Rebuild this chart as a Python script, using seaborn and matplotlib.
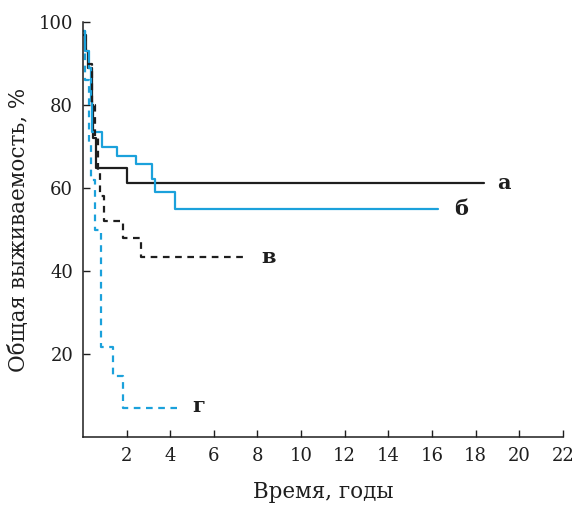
import pandas as pd
import matplotlib.pyplot as plt
import seaborn as sns

# Кривые выживаемости (время в годах, выживаемость в %)
t_a = [0.0, 0.1, 0.15, 0.25, 0.4, 0.45, 0.6, 2.0, 18.4]
s_a = [97, 97, 93, 89, 80, 72, 64.8, 61.2, 61.2]

t_b = [0.0, 0.1, 0.3, 0.35, 0.4, 0.87, 1.56, 2.45, 3.17, 3.3, 4.2, 16.3]
s_b = [98, 93, 89, 81, 73.5, 70, 67.7, 65.8, 62.2, 59.1, 55, 55]

t_v = [0.2, 0.4, 0.55, 0.7, 0.8, 0.95, 1.85, 2.65, 7.5]
s_v = [90, 80, 72, 64, 58, 52, 48, 43.3, 43.3]

t_g = [0.0, 0.1, 0.28, 0.38, 0.55, 0.82, 1.38, 1.84, 4.3]
s_g = [98, 86, 71, 62, 50, 21.8, 14.6, 7, 7]

labels = ["а", "б", "в", "г"]
label_x = [19.0, 17.0, 8.2, 5.0]
label_y = [61.2, 55, 43.5, 7.5]

x_ticks = [2, 4, 6, 8, 10, 12, 14, 16, 18, 20, 22]
y_ticks = [20, 40, 60, 80, 100]

black = "#1e1e1e"
blue = "#1ba1db"

sns.set_style("ticks")
plt.rcParams["font.family"] = ["DejaVu Serif"]

fig = plt.figure(figsize=(5.76, 5.07), dpi=100)
ax = fig.add_axes([0.144, 0.138, 0.833, 0.818])

curves = [
    (t_a, s_a, black, ""),
    (t_b, s_b, blue, ""),
    (t_v, s_v, black, (3, 2.5)),
    (t_g, s_g, blue, (3, 2.5)),
]
for t, s, c, d in curves:
    df = pd.DataFrame({"t": t, "s": s})
    sns.lineplot(data=df, x="t", y="s", ax=ax, color=c, lw=1.6,
                 drawstyle="steps-post", sort=False)
    if d:
        ax.lines[-1].set_dashes(d)

for lab, x, y in zip(labels, label_x, label_y):
    ax.text(x, y, lab, fontsize=15, fontweight="bold", va="center",
            ha="left", color=black)

ax.set_xlim(0, 22)
ax.set_ylim(0, 100)
ax.set_xticks(x_ticks)
ax.set_yticks(y_ticks)
ax.tick_params(direction="in", length=5, width=1, labelsize=13, colors=black)
ax.tick_params(axis="x", pad=7)
ax.tick_params(axis="y", pad=7)
sns.despine(ax=ax)
for sp in ax.spines.values():
    sp.set_linewidth(1.1)
    sp.set_color(black)

ax.set_xlabel("Время, годы", fontsize=15.5, labelpad=12, color=black)
ax.set_ylabel("Общая выживаемость, %", fontsize=15.5, labelpad=6, color=black)

fig.savefig("out.png", dpi=100)
